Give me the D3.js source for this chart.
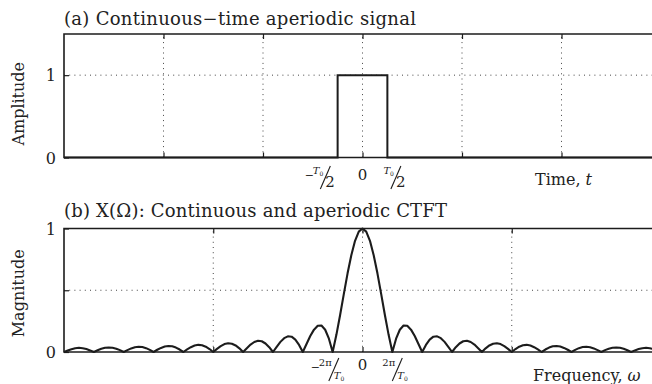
<!DOCTYPE html>
<html>
<head>
<meta charset="utf-8">
<script src="https://cdn.jsdelivr.net/npm/d3@7"></script>
<style>
  html, body { margin: 0; padding: 0; background: #fff; }
  svg { display: block; }
  text { font-family: "DejaVu Serif", "Liberation Serif", serif; fill: #222; }
</style>
</head>
<body>
<svg id="chart" width="652" height="384"></svg>
<script>
// ---- data -------------------------------------------------------------
// (a) rectangular pulse of width T0 (T0 = 1), amplitude 1
const pulseTime = [-6, -0.5, -0.5, 0.5, 0.5, 6];
const pulseAmp  = [0, 0, 1, 1, 0, 0];

// (b) |X(Ω)| sampled every 1/8 of the zero spacing 2π/T0, for ω ≥ 0
const freqStep = 0.125;
const magnitudeHalf = [
  1.000, 0.975, 0.900, 0.784, 0.637, 0.471, 0.300, 0.139,
  0.000, 0.108, 0.180, 0.214, 0.212, 0.181, 0.129, 0.065,
  0.000, 0.057, 0.100, 0.124, 0.127, 0.112, 0.082, 0.042,
  0.000, 0.039, 0.069, 0.087, 0.091, 0.081, 0.060, 0.031,
  0.000, 0.030, 0.053, 0.067, 0.071, 0.064, 0.047, 0.025,
  0.000, 0.024, 0.043, 0.055, 0.058, 0.052, 0.039, 0.021,
  0.000, 0.020, 0.036, 0.046, 0.049, 0.044, 0.033, 0.018,
  0.000, 0.017, 0.031, 0.040, 0.042, 0.039, 0.029, 0.015,
  0.000, 0.015, 0.027, 0.035, 0.037, 0.034, 0.026, 0.014,
  0.000, 0.013, 0.024, 0.031, 0.034, 0.031, 0.023, 0.012,
  0.000
];

// tick / grid positions
const timeGrid = [-4, -2, 0, 2, 4];
const ampGrid = [1];
const ampTickLabels = ["0", "1"];
const freqGrid = [-5, 0, 5];
const magGrid = [0.5];
const magTickLabels = ["0", "1"];

// ---- helpers -----------------------------------------------------------
const svg = d3.select("#chart");
const ink = "#1c1c1c";

function drawPanel(x, y, xGrid, yGrid, yTicks) {
  const g = svg.append("g");
  const [x0, x1] = x.range();
  const [y0, y1] = y.range();
  // dotted grid
  g.selectAll(".vg").data(xGrid).join("line")
    .attr("x1", d => x(d)).attr("x2", d => x(d))
    .attr("y1", y0).attr("y2", y1)
    .attr("stroke", "#444").attr("stroke-width", 1)
    .attr("stroke-dasharray", "1,4.2");
  g.selectAll(".hg").data(yGrid).join("line")
    .attr("x1", x0).attr("x2", x1)
    .attr("y1", d => y(d)).attr("y2", d => y(d))
    .attr("stroke", "#444").attr("stroke-width", 1)
    .attr("stroke-dasharray", "1,4.2");
  // inward tick marks via axes
  const tickLen = -5;
  g.append("g").attr("transform", `translate(0,${y0})`)
    .call(d3.axisBottom(x).tickValues(xGrid).tickSize(tickLen).tickFormat(""))
    .call(a => a.select(".domain").remove());
  g.append("g").attr("transform", `translate(0,${y1})`)
    .call(d3.axisTop(x).tickValues(xGrid).tickSize(tickLen).tickFormat(""))
    .call(a => a.select(".domain").remove());
  g.append("g").attr("transform", `translate(${x0},0)`)
    .call(d3.axisLeft(y).tickValues(yTicks).tickSize(tickLen).tickFormat(""))
    .call(a => a.select(".domain").remove());
  g.selectAll(".tick line").attr("stroke", ink).attr("stroke-width", 1.2);
  // box
  g.append("path")
    .attr("d", `M${x1},${y1}H${x0}V${y0}H${x1}`)
    .attr("fill", "none").attr("stroke", ink).attr("stroke-width", 1.6);
  return g;
}

// slanted fraction label: [−] numerator ⁄ denominator
function fraction(left, base, neg, numParts, denParts, numSize, denSize) {
  const g = svg.append("g");
  let cx = left;
  if (neg) {
    const m = g.append("text").attr("x", cx).attr("y", base - 7)
      .attr("font-size", 11).text("−");
    cx += m.node().getComputedTextLength() - 1;
  }
  const num = g.append("text").attr("x", cx).attr("y", base - 12)
    .attr("font-size", numSize);
  numParts(num);
  const nw = num.node().getComputedTextLength();
  const sx = cx + nw - 3;
  g.append("line")
    .attr("x1", sx).attr("y1", base + 3)
    .attr("x2", sx + 10).attr("y2", base - 20)
    .attr("stroke", ink).attr("stroke-width", 1.1);
  const den = g.append("text").attr("x", sx + 5).attr("y", base + 1)
    .attr("font-size", denSize);
  denParts(den);
  return g;
}
const T0 = t => {
  t.append("tspan").attr("font-style", "italic").text("T");
  t.append("tspan").attr("font-size", 6).attr("dy", 2).text("0");
};

// ---- panel (a) -----------------------------------------------------------
const xT = d3.scaleLinear().domain([-6, 6]).range([64, 661]);
const yT = d3.scaleLinear().domain([0, 1.5]).range([157.5, 34]);
drawPanel(xT, yT, timeGrid, ampGrid, [0, 1]);

svg.append("path")
  .datum(d3.zip(pulseTime, pulseAmp))
  .attr("d", d3.line().x(d => xT(d[0])).y(d => yT(d[1])))
  .attr("fill", "none").attr("stroke", ink).attr("stroke-width", 2)
  .attr("stroke-linejoin", "miter");

svg.append("text").attr("x", 64).attr("y", 25).attr("font-size", 18)
  .attr("textLength", 352).attr("lengthAdjust", "spacing")
  .text("(a) Continuous−time aperiodic signal");
svg.append("text")
  .attr("transform", `translate(24,${(yT(0) + yT(1.5)) / 2 + 8}) rotate(-90)`)
  .attr("text-anchor", "middle").attr("font-size", 16).text("Amplitude");
svg.selectAll(".ylA").data([0, 1]).join("text")
  .attr("x", 56).attr("y", d => yT(d) + 6)
  .attr("text-anchor", "end").attr("font-size", 16)
  .text((d, i) => ampTickLabels[i]);
svg.append("text").attr("x", xT(0)).attr("y", 180)
  .attr("text-anchor", "middle").attr("font-size", 15).text("0");
fraction(xT(-0.5) - 33, 186, true, T0, t => t.text("2"), 10, 15);
fraction(xT(0.5) - 4, 186, false, T0, t => t.text("2"), 10, 15);
const tl = svg.append("text").attr("x", 535).attr("y", 185).attr("font-size", 16);
tl.append("tspan").text("Time, ");
tl.append("tspan").attr("font-style", "italic").text("t");

// ---- panel (b) -----------------------------------------------------------
const xB = d3.scaleLinear().domain([-10, 10]).range([64, 661]);
const yB = d3.scaleLinear().domain([0, 1]).range([352, 228.5]);
drawPanel(xB, yB, freqGrid, magGrid, [0, 0.5, 1]);

const spectrum = [];
for (let k = magnitudeHalf.length - 1; k > 0; k--) spectrum.push([-k * freqStep, magnitudeHalf[k]]);
for (let k = 0; k < magnitudeHalf.length; k++) spectrum.push([k * freqStep, magnitudeHalf[k]]);

svg.append("path")
  .datum(spectrum)
  .attr("d", d3.line().x(d => xB(d[0])).y(d => yB(d[1])))
  .attr("fill", "none").attr("stroke", ink).attr("stroke-width", 2.1)
  .attr("stroke-linejoin", "round");

svg.append("text").attr("x", 64).attr("y", 217).attr("font-size", 18)
  .attr("textLength", 383).attr("lengthAdjust", "spacing")
  .text("(b) X(Ω): Continuous and aperiodic CTFT");
svg.append("text")
  .attr("transform", `translate(24,${(yB(0) + yB(1)) / 2 + 3}) rotate(-90)`)
  .attr("text-anchor", "middle").attr("font-size", 16).text("Magnitude");
svg.selectAll(".ylB").data([0, 1]).join("text")
  .attr("x", 56).attr("y", d => yB(d) + 6)
  .attr("text-anchor", "end").attr("font-size", 16)
  .text((d, i) => magTickLabels[i]);
svg.append("text").attr("x", xB(0)).attr("y", 370)
  .attr("text-anchor", "middle").attr("font-size", 15).text("0");
const twoPi = t => t.text("2π");
fraction(xB(-1) - 22, 378, true, twoPi, T0, 10, 10);
fraction(xB(1) - 10, 378, false, twoPi, T0, 10, 10);
const fl = svg.append("text").attr("x", 533).attr("y", 381).attr("font-size", 16);
fl.append("tspan").text("Frequency,  ");
fl.append("tspan").attr("font-style", "italic").text("ω");
</script>
</body>
</html>
